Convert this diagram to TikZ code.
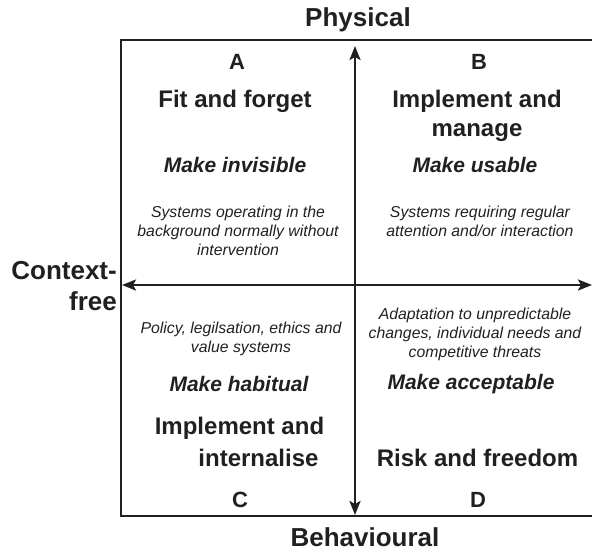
\documentclass[tikz,border=0pt]{standalone}
\usepackage{fontspec}
\setmainfont{Liberation Sans}
\usetikzlibrary{arrows.meta}
\definecolor{ink}{HTML}{231F20}
\tikzset{
  axislbl/.style={font=\bfseries\fontsize{26}{30}\selectfont, text=ink, inner sep=0pt},
  quadlbl/.style={font=\bfseries\fontsize{22}{26}\selectfont, text=ink, inner sep=0pt},
  title/.style={font=\bfseries\fontsize{24}{29}\selectfont, text=ink, align=center, inner sep=0pt},
  aim/.style={font=\bfseries\itshape\fontsize{21}{25}\selectfont, text=ink, inner sep=0pt},
  desc/.style={font=\itshape\fontsize{15.8}{19}\selectfont, text=ink, align=center, inner sep=0pt},
  frameline/.style={draw=ink, line width=2.6pt},
  axisline/.style={draw=ink, line width=2.4pt, {Stealth[length=14pt,width=11pt,inset=3pt]}-{Stealth[length=14pt,width=11pt,inset=3pt]}}
}
\begin{document}
\begin{tikzpicture}[x=1pt,y=-1pt]
\useasboundingbox (0,0) rectangle (592,552);
% frame
\coordinate (TR) at (593,40);
\coordinate (TL) at (121,40);
\coordinate (BL) at (121,516);
\coordinate (BR) at (593,516);
\draw[frameline] (TR) -- (TL) -- (BL) -- (BR);
% axes
\coordinate (xL) at (122,285);
\coordinate (xR) at (592,285);
\coordinate (yT) at (355,46);
\coordinate (yB) at (355,515);
\draw[axisline] (xL) -- (xR);
\draw[axisline] (yB) -- (yT);
% axis labels
\node[axislbl] (phys) at (358,20) {Physical};
\node[axislbl] (behav) at (365,537) {Behavioural};
\node[axislbl, anchor=east] (ctx1) at (117,271) {Context-};
\node[axislbl, anchor=east] (ctx2) at (117,301) {free};
% quadrant letters
\node[quadlbl] (A) at (237,62) {A};
\node[quadlbl] (B) at (479,62) {B};
\node[quadlbl] (C) at (240,500) {C};
\node[quadlbl] (D) at (478,500) {D};
% quadrant A
\node[title] (tA) at (235,101) {Fit and forget};
\node[aim] (aA) at (235,165) {Make invisible};
\node[desc] (dA) at (238,231) {Systems operating in the\\background normally without\\intervention};
% quadrant B
\node[title] (tB) at (477,115.5) {Implement and\\manage};
\node[aim] (aB) at (475,165) {Make usable};
\node[desc] (dB) at (480,221.5) {Systems requiring regular\\attention and/or interaction};
% quadrant C
\node[desc] (dC) at (241,338.5) {Policy, legilsation, ethics and\\value systems};
\node[aim] (aC) at (239,384) {Make habitual};
\node[title] (tC1) at (239.5,428) {Implement and};
\node[title] (tC2) at (258.5,458) {internalise};
% quadrant D
\node[desc] (dD) at (475,334) {Adaptation to unpredictable\\changes, individual needs and\\competitive threats};
\node[aim] (aD) at (471,384) {Make acceptable};
\node[title] (tD) at (477.5,458) {Risk and freedom};
\end{tikzpicture}
\end{document}
